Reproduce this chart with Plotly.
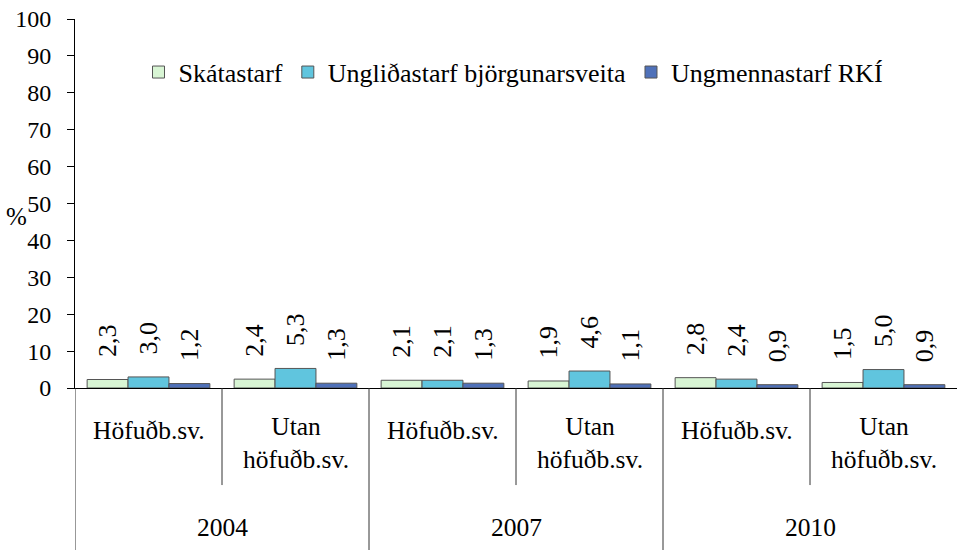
import plotly.graph_objects as go

years = ["2004", "2007", "2010"]
regions = ["Höfuðb.sv.", "Utan<br>höfuðb.sv."]
series_names = ["Skátastarf", "Ungliðastarf björgunarsveita", "Ungmennastarf RKÍ"]
skatastarf = [2.3, 2.4, 2.1, 1.9, 2.8, 1.5]
unglidastarf = [3.0, 5.3, 2.1, 4.6, 2.4, 5.0]
ungmennastarf = [1.2, 1.3, 1.3, 1.1, 0.9, 0.9]
y_ticks = [0, 10, 20, 30, 40, 50, 60, 70, 80, 90, 100]

colors = ["#d8f5d4", "#60c5de", "#4f71b9"]
FONT = "Times New Roman, Liberation Serif, DejaVu Serif, serif"

cats = [f"{y} {r}" for y in years for r in regions]

fig = go.Figure()
for name, vals, col in zip(series_names, [skatastarf, unglidastarf, ungmennastarf], colors):
    fig.add_trace(go.Bar(
        name=name, x=cats, y=vals,
        marker=dict(color=col, line=dict(color="#555555", width=1)),
        text=["   " + f"{v:.1f}".replace(".", ",") for v in vals],
        textposition="outside", textangle=-90, cliponaxis=False, constraintext="none",
        textfont=dict(family=FONT, size=26, color="black"),
    ))

shapes = []
annotations = []
for i, c in enumerate(cats):
    reg = regions[i % 2]
    annotations.append(dict(
        x=c, xref="x", y=-0.114 if i % 2 == 0 else -0.15, yref="paper",
        text=reg, showarrow=False, yanchor="middle",
        font=dict(family=FONT, size=25.5, color="black")))
for j, yr in enumerate(years):
    annotations.append(dict(
        x=2 * j + 0.5, xref="x", y=-0.377, yref="paper", text=yr, showarrow=False,
        yanchor="middle", font=dict(family=FONT, size=25.5, color="black")))
for j in range(3):
    xm = 2 * j + 0.5
    shapes.append(dict(type="line", xref="x", yref="paper", x0=xm, x1=xm, y0=0, y1=-0.263,
                       line=dict(color="#333333", width=1)))
for xb in [-0.5, 1.5, 3.5]:
    shapes.append(dict(type="line", xref="x", yref="paper", x0=xb, x1=xb, y0=0, y1=-0.44,
                       line=dict(color="#333333", width=1)))

annotations.append(dict(x=-0.066, xref="paper", xanchor="center", y=0.465, yref="paper",
                        text="%", showarrow=False, font=dict(family=FONT, size=25, color="black")))

fig.update_layout(
    width=957, height=550,
    margin=dict(l=75, r=0, t=19, b=162),
    paper_bgcolor="white", plot_bgcolor="white",
    barmode="group", bargap=0.165, bargroupgap=0,
    showlegend=True,
    legend=dict(orientation="h", x=0.072, y=0.856, xanchor="left", yanchor="middle",
                font=dict(family=FONT, size=26, color="black"), bgcolor="rgba(0,0,0,0)",
                itemwidth=30, traceorder="normal"),
    xaxis=dict(showticklabels=False, showline=True, linecolor="black", linewidth=1,
               ticks="", range=[-0.5, 5.5], showgrid=False, zeroline=False),
    yaxis=dict(range=[0, 100], tickvals=y_ticks, ticks="outside", ticklen=7, tickcolor="black",
               showline=True, linecolor="black", linewidth=1, showgrid=False, zeroline=False,
               ticklabelstandoff=11,
               tickfont=dict(family=FONT, size=24, color="black")),
    shapes=shapes, annotations=annotations,
)
fig.write_html("out.html", config={"displayModeBar": False},
               post_script="document.body.style.margin='0px';")
